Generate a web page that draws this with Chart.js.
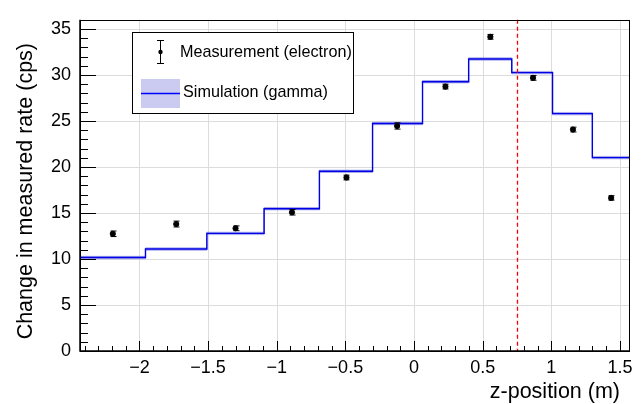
<!DOCTYPE html>
<html>
<head>
<meta charset="utf-8">
<script src="https://cdn.jsdelivr.net/npm/chart.js@4/dist/chart.umd.min.js"></script>
<style>
  html, body { margin: 0; padding: 0; background: #fff; }
  #wrap { width: 642px; height: 404px; }
</style>
</head>
<body>
<div id="wrap"><canvas id="myChart" width="642" height="404"></canvas></div>
<script>
// data
const binEdges = [-2.433, -1.956, -1.509, -1.092, -0.689, -0.302, 0.062, 0.398, 0.712, 1.009, 1.299, 1.566];
const simValues = [10.16, 11.08, 12.78, 15.47, 19.53, 24.73, 29.27, 31.74, 30.26, 25.80, 21.02];
const simErr = [0.13, 0.13, 0.13, 0.13, 0.13, 0.13, 0.13, 0.13, 0.13, 0.13, 0.13];
const measX = [-2.194, -1.732, -1.300, -0.889, -0.492, -0.123, 0.229, 0.556, 0.867, 1.158, 1.436];
const measY = [12.74, 13.80, 13.34, 15.08, 18.86, 24.46, 28.74, 34.15, 29.69, 24.07, 16.64];
const measErr = [0.30, 0.32, 0.26, 0.30, 0.26, 0.34, 0.26, 0.26, 0.26, 0.26, 0.24];
const xTicks = [-2, -1.5, -1, -0.5, 0, 0.5, 1, 1.5];
const yTicks = [0, 5, 10, 15, 20, 25, 30, 35];
const xRange = [-2.433, 1.566];
const yRange = [0, 36];
const cutPosition = 0.75;

const FONT = "'Liberation Sans', Arial, Helvetica, sans-serif";

function stepPoints(vals) {
    let pts = [];
    for (let i = 0; i < vals.length; i++) {
        pts.push({ x: binEdges[i], y: vals[i] });
    }
    pts.push({ x: binEdges[binEdges.length - 1], y: vals[vals.length - 1] });
    return pts;
}

const upper = stepPoints(simValues.map((v, i) => v + simErr[i]));
const lower = stepPoints(simValues.map((v, i) => v - simErr[i]));

// ROOT-like frame, inner ticks, error bars, cut line, legend, titles
const rootStyle = {
    id: "rootStyle",
    beforeDatasetsDraw(chart) {
        const ctx = chart.ctx;
        const a = chart.chartArea;
        ctx.save();
        ctx.strokeStyle = "#dcdcdc";
        ctx.lineWidth = 1;
        // grid
        xTicks.forEach((v) => {
            const px = Math.round(chart.scales.x.getPixelForValue(v)) + 0.5;
            ctx.beginPath(); ctx.moveTo(px, a.top); ctx.lineTo(px, a.bottom); ctx.stroke();
        });
        yTicks.forEach((v) => {
            if (v == 0) return;
            const py = Math.round(chart.scales.y.getPixelForValue(v)) + 0.5;
            ctx.beginPath(); ctx.moveTo(a.left, py); ctx.lineTo(a.right, py); ctx.stroke();
        });
        ctx.restore();
    },
    afterDatasetsDraw(chart) {
        const ctx = chart.ctx;
        const a = chart.chartArea;
        const xs = chart.scales.x;
        const ys = chart.scales.y;
        ctx.save();

        // error bars of measurement
        ctx.strokeStyle = "#000";
        ctx.lineWidth = 1;
        for (let i = 0; i < measX.length; i++) {
            const px = Math.round(xs.getPixelForValue(measX[i])) + 0.5;
            const y1 = ys.getPixelForValue(measY[i] + measErr[i]);
            const y2 = ys.getPixelForValue(measY[i] - measErr[i]);
            ctx.beginPath();
            ctx.moveTo(px, y1); ctx.lineTo(px, y2);
            ctx.moveTo(px - 3, y1); ctx.lineTo(px + 3, y1);
            ctx.moveTo(px - 3, y2); ctx.lineTo(px + 3, y2);
            ctx.stroke();
        }

        // red dashed cut line
        const cx = Math.round(xs.getPixelForValue(cutPosition)) + 0.5;
        ctx.strokeStyle = "#ff0000";
        ctx.lineWidth = 1.3;
        ctx.setLineDash([4, 3]);
        ctx.beginPath(); ctx.moveTo(cx, a.top); ctx.lineTo(cx, a.bottom); ctx.stroke();
        ctx.setLineDash([]);

        // frame
        ctx.strokeStyle = "#000";
        ctx.lineWidth = 1;
        ctx.strokeRect(Math.round(a.left) + 0.5, Math.round(a.top) + 0.5, Math.round(a.right - a.left), Math.round(a.bottom - a.top));
        ctx.lineWidth = 1.5;
        ctx.beginPath();
        ctx.moveTo(a.left, a.top); ctx.lineTo(a.left, a.bottom); ctx.lineTo(a.right, a.bottom);
        ctx.stroke();

        // inner ticks
        ctx.lineWidth = 1;
        for (let k = 0; k <= 360; k++) {
            const v = k / 10;
            if (v > yRange[1]) break;
            const py = Math.round(ys.getPixelForValue(v)) + 0.5;
            const len = (k % 50 == 0) ? 16 : (k % 10 == 0 ? 8 : 0);
            if (!len) continue;
            ctx.beginPath(); ctx.moveTo(a.left, py); ctx.lineTo(a.left + len, py); ctx.stroke();
        }
        for (let k = -25; k <= 16; k++) {
            const v = k / 10;
            if (v < xRange[0] || v > xRange[1]) continue;
            const px = Math.round(xs.getPixelForValue(v)) + 0.5;
            const len = (k % 5 == 0) ? 10 : 5;
            ctx.beginPath(); ctx.moveTo(px, a.bottom); ctx.lineTo(px, a.bottom - len); ctx.stroke();
        }

        // legend
        ctx.fillStyle = "#fff";
        ctx.fillRect(133, 32, 221, 81);
        ctx.strokeStyle = "#000";
        ctx.lineWidth = 1;
        ctx.strokeRect(132.5, 32.5, 221, 81);
        ctx.beginPath();
        ctx.moveTo(160.5, 40); ctx.lineTo(160.5, 64);
        ctx.moveTo(157, 40.5); ctx.lineTo(164, 40.5);
        ctx.moveTo(157, 63.5); ctx.lineTo(164, 63.5);
        ctx.stroke();
        ctx.fillStyle = "#000";
        ctx.beginPath(); ctx.arc(160.5, 52, 2.2, 0, Math.PI * 2); ctx.fill();
        ctx.fillStyle = "#cbcbf2";
        ctx.fillRect(141, 79, 39, 29);
        ctx.strokeStyle = "#0000ff";
        ctx.lineWidth = 1.3;
        ctx.beginPath(); ctx.moveTo(141, 93.5); ctx.lineTo(180, 93.5); ctx.stroke();
        ctx.fillStyle = "#000";
        ctx.font = "16.2px " + FONT;
        ctx.textBaseline = "middle";
        ctx.textAlign = "left";
        ctx.fillText("Measurement (electron)", 180, 53);
        ctx.fillText("Simulation (gamma)", 183, 93);

        // axis titles
        ctx.font = "21.5px " + FONT;
        ctx.textAlign = "right";
        ctx.textBaseline = "alphabetic";
        ctx.fillText("z-position (m)", 620, 398);
        ctx.save();
        ctx.translate(32, 43);
        ctx.rotate(-Math.PI / 2);
        ctx.textAlign = "right";
        ctx.fillText("Change in measured rate (cps)", 0, 0);
        ctx.restore();

        ctx.restore();
    },
};

const data = {
    datasets: [
        {
            type: "scatter",
            label: "Measurement (electron)",
            data: measX.map((x, i) => ({ x: x, y: measY[i] })),
            backgroundColor: "#000",
            borderColor: "#000",
            pointRadius: 2.6,
            order: 0,
        },
        {
            type: "line",
            label: "Simulation (gamma)",
            data: stepPoints(simValues),
            stepped: "before",
            borderColor: "#0000e6",
            borderWidth: 1.4,
            pointRadius: 0,
            fill: false,
            order: 1,
        },
        {
            type: "line",
            label: "band up",
            data: upper,
            stepped: "before",
            borderColor: "rgba(120,120,225,0.55)",
            backgroundColor: "rgba(150,150,230,0.6)",
            borderWidth: 1,
            pointRadius: 0,
            fill: "+1",
            order: 2,
        },
        {
            type: "line",
            label: "band low",
            data: lower,
            stepped: "before",
            borderColor: "rgba(120,120,225,0.55)",
            borderWidth: 1,
            pointRadius: 0,
            fill: false,
            order: 3,
        },
    ],
};

const config = {
    data,
    options: {
        responsive: false,
        animation: false,
        layout: { padding: { left: 0, right: 13, top: 12, bottom: 0 } },
        plugins: {
            legend: { display: false },
            tooltip: { enabled: false },
        },
        scales: {
            x: {
                type: "linear",
                min: xRange[0],
                max: xRange[1],
                afterBuildTicks: (scale) => {
                    scale.ticks = xTicks.map((v) => ({ value: v }));
                },
                afterFit: (scale) => {
                    scale.height = 53;
                },
                grid: { display: false, drawTicks: false },
                border: { display: false },
                ticks: {
                    autoSkip: false,
                    maxRotation: 0,
                    padding: 6,
                    color: "#000",
                    font: { family: FONT, size: 18 },
                    callback: (v) => String(v).replace("-", "\u2212"),
                },
            },
            y: {
                type: "linear",
                min: yRange[0],
                max: yRange[1],
                afterBuildTicks: (scale) => {
                    scale.ticks = yTicks.map((v) => ({ value: v }));
                },
                afterFit: (scale) => {
                    scale.width = 80;
                },
                grid: { display: false, drawTicks: false },
                border: { display: false },
                ticks: {
                    padding: 9,
                    color: "#000",
                    font: { family: FONT, size: 18 },
                },
            },
        },
    },
    plugins: [rootStyle],
};

const myChart = new Chart(document.getElementById("myChart"), config);
</script>
</body>
</html>
